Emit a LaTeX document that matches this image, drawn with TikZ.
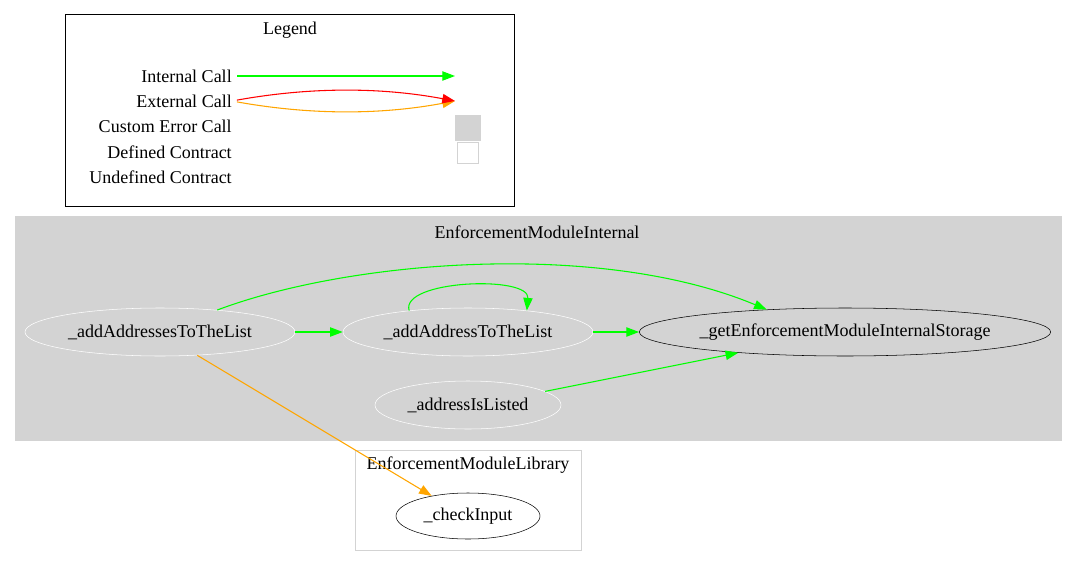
\documentclass[tikz,border=0pt]{standalone}
\usepackage{fontspec}
\setmainfont{Liberation Serif}
\usepackage{xcolor}
\usetikzlibrary{arrows.meta,positioning,shapes.geometric}

\definecolor{gvgray}{HTML}{D3D3D3}
\definecolor{gvgreen}{HTML}{00FF00}
\definecolor{gvorange}{HTML}{FFA500}

\begin{document}
\begin{tikzpicture}[
    x=0.75pt, y=-0.75pt,
    font=\fontsize{13.5}{15}\selectfont,
    fn/.style={ellipse, draw=white, inner sep=0pt, minimum height=36pt},
    ext/.style={ellipse, draw=black, inner sep=0pt, minimum height=35pt},
    call/.style={-{Triangle[length=9.5pt, width=7pt]}, line width=0.8pt, draw=gvgreen},
    xcall/.style={-{Triangle[length=9.5pt, width=7pt]}, line width=0.8pt, draw=gvorange},
    lbl/.style={anchor=east, inner sep=0pt}
  ]
    \useasboundingbox (0,0) rectangle (1077,567);

    % legend
    \draw[black, line width=0.75pt] (65,15) rectangle (514,206);
    \node (lgd) at (290,30) {Legend};
    \node[lbl] (lint) at (232,76) {Internal Call};
    \node[lbl] (lext) at (232,101) {External Call};
    \node[lbl] (lerr) at (232,126) {Custom Error Call};
    \node[lbl] (ldef) at (232,152) {Defined Contract};
    \node[lbl] (lund) at (232,177) {Undefined Contract};
    \coordinate (tint) at (455,76);
    \coordinate (text) at (455,101);
    \node[fill=gvgray, draw=gvgray, minimum width=19pt, minimum height=18.5pt, inner sep=0pt] (serr) at (468,127.5) {};
    \node[fill=white, draw=gvgray, line width=0.75pt, minimum width=16pt, minimum height=16pt, inner sep=0pt] (sdef) at (468,153) {};
    \draw[call, shorten <=3.75pt] (lint.east) -- (tint);
    \draw[xcall, shorten <=3.75pt] (lext.east) .. controls (310,115) and (380,115) .. (text);
    \draw[xcall, draw=red, shorten <=3.75pt] (lext.east) .. controls (310,87) and (380,87) .. (text);

    % clusters
    \draw[fill=gvgray, draw=gvgray] (15,216) rectangle (1061,440);
    \node (cint) at (537,232) {EnforcementModuleInternal};
    \draw[draw=gvgray, line width=0.75pt] (355,450) rectangle (581,550);
    \node (clib) at (468,465) {EnforcementModuleLibrary};

    % functions
    \node[fn, minimum width=202.5pt] (adds) at (160,332) {\_addAddressesToTheList};
    \node[fn, minimum width=187.5pt] (addr) at (468,332) {\_addAddressToTheList};
    \node[ext, minimum width=307.5pt, minimum height=36pt] (store) at (845,332) {\_getEnforcementModuleInternalStorage};
    \node[fn, minimum width=139.5pt] (listed) at (468,405) {\_addressIsListed};
    \node[ext, minimum width=108pt, minimum height=34.5pt] (check) at (468,516) {\_checkInput};

    % calls
    \draw[call] (adds.east) -- (addr.west);
    \draw[call] (addr.east) -- (store.west);
    \draw[call] (addr.160) .. controls (400,280) and (530,275) .. (addr.20);
    \draw[call] (adds.21) .. controls (350,260) and (600,240) .. (store.164);
    \draw[call] (listed.10) -- (store.-169);
    \draw[xcall] (adds.-32) -- (check.151);
  \end{tikzpicture}
\end{document}
